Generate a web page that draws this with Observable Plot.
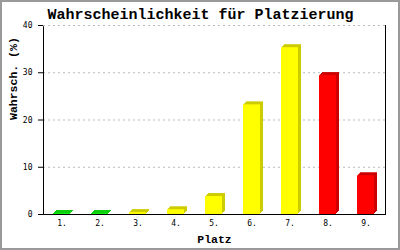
<!DOCTYPE html>
<html>
<head>
<meta charset="utf-8">
<script src="https://cdn.jsdelivr.net/npm/d3@7"></script>
<script src="https://cdn.jsdelivr.net/npm/@observablehq/plot@0.6"></script>
<style>
  html, body { margin: 0; padding: 0; background: white; }
  #chart svg { display: block; outline: 2px solid #9a9a9a; outline-offset: -2px; }
</style>
</head>
<body>
<div id="chart"></div>
<script>
const title = "Wahrscheinlichkeit für Platzierung";
const yLabel = "Wahrsch. (%)";
const xLabel = "Platz";
const places = ["1.", "2.", "3.", "4.", "5.", "6.", "7.", "8.", "9."];
const probs = [0.2, 0.2, 0.4, 1.0, 3.8, 23.2, 35.3, 29.4, 8.2];
const groups = ["green", "green", "yellow", "yellow", "yellow", "yellow", "yellow", "red", "red"];
const yTicks = [0, 10, 20, 30, 40];

const frontColor = {green: "#00ee00", yellow: "#ffff00", red: "#ff0000"};
const sideColor = {green: "#00cc00", yellow: "#cccc00", red: "#cc0000"};

const data = places.map((p, i) => ({place: p, prob: probs[i], group: groups[i]}));

const depthLayers = [3, 2, 1].map(k =>
  Plot.barY(data, {x: "place", y: "prob", fill: d => sideColor[d.group], dx: k, dy: -k})
);

const chart = Plot.plot({
  width: 400,
  height: 250,
  marginLeft: 43,
  marginRight: 15,
  marginTop: 25,
  marginBottom: 36,
  style: {fontFamily: "'DejaVu Sans Mono', monospace", fontSize: "8px", background: "white", color: "black"},
  x: {domain: places, paddingInner: 0.55, paddingOuter: 0.275, label: null, tickSize: 0, tickPadding: 6},
  y: {domain: [0, 40], ticks: yTicks, tickSize: 5, tickPadding: 6, label: null},
  marks: [
    Plot.ruleY(yTicks.slice(1), {stroke: "#bbbbbb", strokeDasharray: "2,3"}),
    ...depthLayers,
    Plot.barY(data, {x: "place", y: "prob", fill: d => frontColor[d.group]}),
    Plot.frame({stroke: "black"}),
    Plot.ruleY([40], {stroke: "white", strokeWidth: 1.5}),
    Plot.ruleY([40], {stroke: "#bbbbbb", strokeDasharray: "2,3"}),
    Plot.text([title], {frameAnchor: "top", dx: -14, dy: -11, lineAnchor: "middle",
      fontFamily: "'Liberation Mono', monospace", fontWeight: "bold", fontSize: 15}),
    Plot.text([yLabel], {frameAnchor: "left", dx: -30.5, rotate: -90, lineAnchor: "middle",
      fontFamily: "'Liberation Mono', monospace", fontWeight: "bold", fontSize: 11.5}),
    Plot.text([xLabel], {frameAnchor: "bottom", dy: 25, lineAnchor: "middle",
      fontFamily: "'Liberation Mono', monospace", fontWeight: "bold", fontSize: 11.5})
  ]
});
document.getElementById("chart").append(chart);
</script>
</body>
</html>
